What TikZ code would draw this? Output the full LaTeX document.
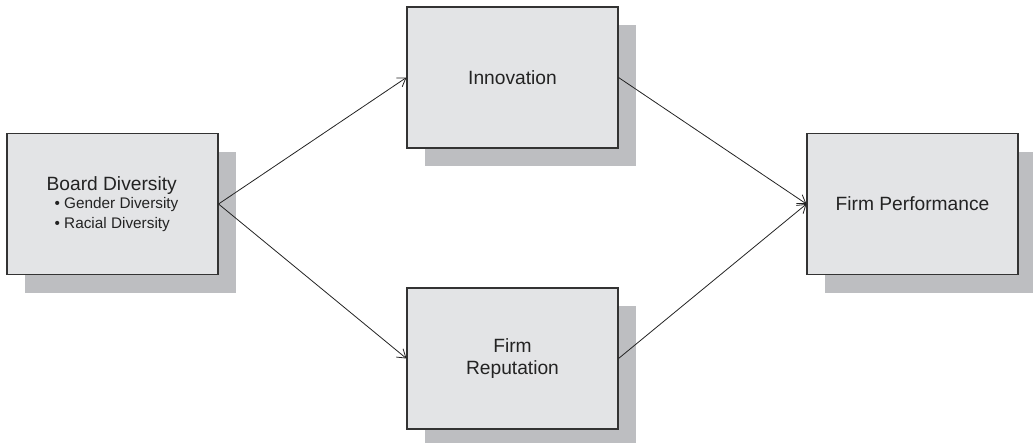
\documentclass[tikz,border=0pt]{standalone}
\usepackage{fontspec}
\setmainfont{Liberation Sans}
\usetikzlibrary{arrows.meta, positioning, shadows}
\definecolor{boxgray}{RGB}{227,228,230}
\definecolor{shadegray}{RGB}{189,190,193}
\definecolor{edgegray}{RGB}{51,51,51}
\definecolor{inkgray}{RGB}{35,35,35}

\begin{document}
\begin{tikzpicture}[x=0.75pt, y=-0.75pt,
  block/.style={draw=edgegray, line width=0.8pt, fill=boxgray, minimum width=158.25pt, minimum height=105.75pt, inner sep=0pt, align=center, text=inkgray, font=\fontsize{14.4}{16.5}\selectfont, drop shadow={shadow xshift=13.5pt, shadow yshift=-13.5pt, fill=shadegray, opacity=1}},
  link/.style={-{Straight Barb[length=6pt, width=8pt]}, line width=0.6pt, inkgray}]
  \useasboundingbox (0,0) rectangle (1033,443);

  \node[block, align=left] (board) at (112.5,204) {Board Diversity\\[-3pt]{\fontsize{11.5}{14}\selectfont\hspace*{6pt}• Gender Diversity}\\[-1.5pt]{\fontsize{11.5}{14}\selectfont\hspace*{6pt}• Racial Diversity}};
  \node[block] (innov) at (512.5,77.5) {Innovation};
  \node[block] (repu) at (512.5,358.5) {Firm\\Reputation};
  \node[block] (perf) at (912.5,204) {Firm Performance};

  \draw[link] (board.east) -- (innov.west);
  \draw[link] (board.east) -- (repu.west);
  \draw[link] (innov.east) -- (perf.west);
  \draw[link] (repu.east) -- (perf.west);
\end{tikzpicture}
\end{document}
